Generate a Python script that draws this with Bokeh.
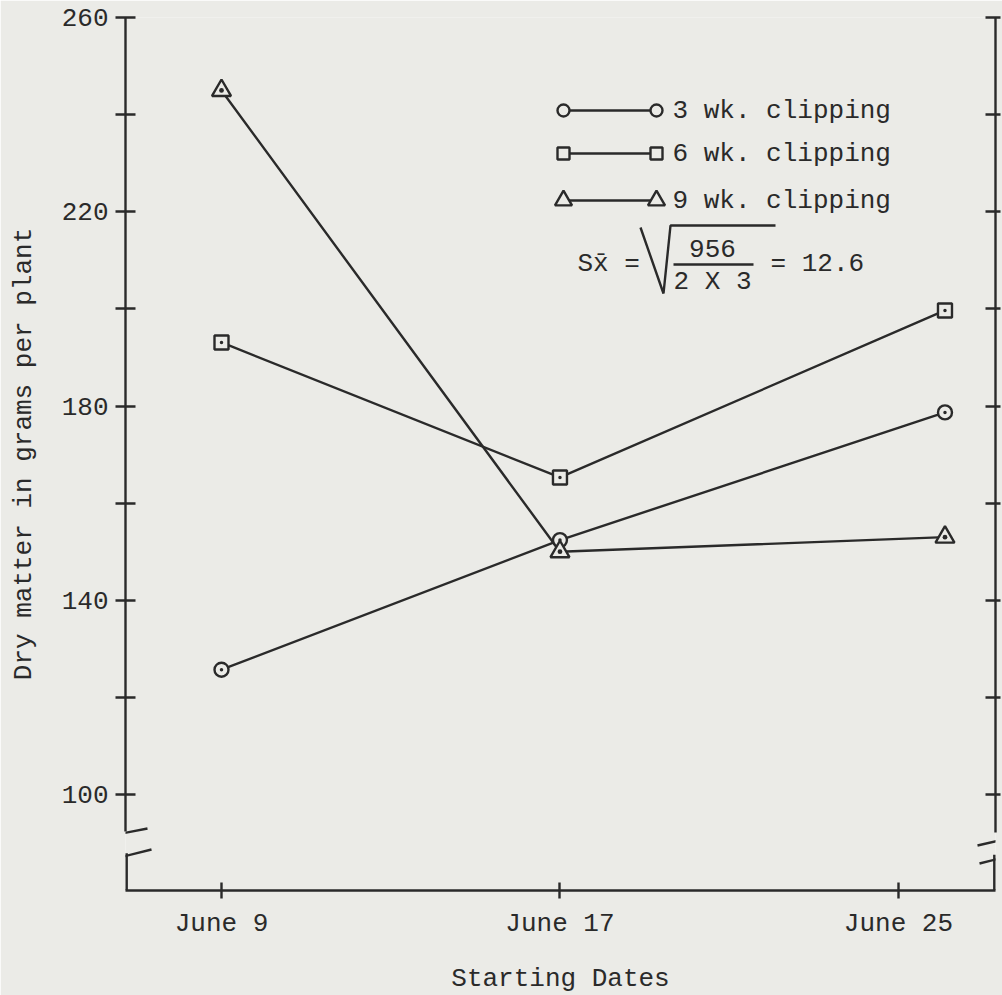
from bokeh.plotting import figure
from bokeh.models import LinearAxis, FixedTicker, Range1d
from bokeh.embed import file_html
from bokeh.resources import INLINE
from bokeh.core.properties import value

# ---------------- data ----------------
start_day = [9, 17, 26.1]            # day of June at which each point is plotted
date_ticks = [9, 17, 25]
date_labels = ["June 9", "June 17", "June 25"]
wk3 = [125.7, 152.4, 178.7]
wk6 = [193.1, 165.3, 199.7]
wk9 = [245.0, 150.0, 153.0]
series_names = ["3 wk. clipping", "6 wk. clipping", "9 wk. clipping"]
y_labelled = [100, 140, 180, 220, 260]
y_unlabelled = [120, 160, 200, 240]
formula_left = "Sx\u0304 ="
formula_num = "956"
formula_den = "2 X 3"
formula_right = "= 12.6"

# ---------------- style / layout ----------------
BG = "#ebebe7"
INK = "#2a2a2a"
FONT = "Liberation Mono"
FS = "26px"
LW = 2.4

X0, X1 = 6.731, 27.294
Y0, Y1 = 80.23, 260.03
FW, FH = 870, 873


def dx(px):
    return X0 + px * (X1 - X0) / FW


def dy(py):
    return Y1 - py * (Y1 - Y0) / FH


p = figure(frame_width=FW, frame_height=FH,
           x_range=Range1d(X0, X1), y_range=Range1d(Y0, Y1),
           output_backend="svg", toolbar_location=None,
           min_border_left=125, min_border_right=7, min_border_top=17,
           min_border_bottom=104,
           background_fill_color=BG, border_fill_color=BG,
           outline_line_color=None)
p.grid.visible = False

# x axis
xa = p.xaxis[0]
xa.ticker = FixedTicker(ticks=date_ticks)
xa.major_label_overrides = dict(zip(date_ticks, date_labels))
xa.minor_tick_line_color = None
xa.major_tick_in = 8
xa.major_tick_out = 8
xa.axis_line_width = LW
xa.axis_line_color = INK
xa.major_tick_line_width = LW
xa.major_tick_line_color = INK
xa.major_label_text_font = FONT
xa.major_label_text_font_size = FS
xa.major_label_text_color = INK
xa.major_label_standoff = 10
xa.axis_label = "Starting Dates"
xa.axis_label_text_font = FONT
xa.axis_label_text_font_size = FS
xa.axis_label_text_font_style = "normal"
xa.axis_label_text_color = INK
xa.axis_label_standoff = 22

# left axis: labelled ticks as major ticks, the others as (equal-looking) minor ticks
ya = p.yaxis[0]
ya.ticker = FixedTicker(ticks=y_labelled, minor_ticks=y_unlabelled)
ya.major_tick_in = 10
ya.major_tick_out = 10
ya.minor_tick_in = 10
ya.minor_tick_out = 10
ya.axis_line_width = LW
ya.axis_line_color = INK
ya.major_tick_line_width = LW
ya.major_tick_line_color = INK
ya.minor_tick_line_width = LW
ya.minor_tick_line_color = INK
ya.bounds = (92.4, Y1)
ya.major_label_text_font = FONT
ya.major_label_text_font_size = FS
ya.major_label_text_color = INK
ya.major_label_standoff = 7
ya.axis_label = "Dry matter in grams per plant"
ya.axis_label_text_font = FONT
ya.axis_label_text_font_size = FS
ya.axis_label_text_font_style = "normal"
ya.axis_label_text_color = INK
ya.axis_label_standoff = 20

# right axis: ticks only, no labels
ra = LinearAxis(ticker=FixedTicker(ticks=[], minor_ticks=y_labelled + y_unlabelled),
                bounds=(92.2, Y1),
                minor_tick_in=10, minor_tick_out=5, minor_tick_line_width=LW,
                minor_tick_line_color=INK, major_tick_line_color=None,
                axis_line_width=LW, axis_line_color=INK, major_label_standoff=0)
p.add_layout(ra, "right")

# axis breaks (lower stubs and slashes)
p.segment(x0=[X0, X1], y0=[Y0, Y0], x1=[X0, X1], y1=[87.9, 87.6],
          line_width=2 * LW, line_color=INK)
p.segment(x0=[dx(-9), dx(-6), dx(852), dx(854)],
          y0=[dy(817), dy(840), dy(828), dy(846)],
          x1=[dx(22), dx(26), dx(878), dx(878)],
          y1=[dy(811), dy(832), dy(822), dy(840)],
          line_width=LW, line_color=INK)

# data lines and markers
markers = ["circle_dot", "square_dot", "triangle_dot"]
sizes = [14, 14, 19]
for ys in [wk3, wk6, wk9]:
    p.line(start_day, ys, line_width=LW, line_color=INK)
for ys, mk, sz in zip([wk3, wk6, wk9], markers, sizes):
    p.scatter(start_day, ys, marker=mk, size=sz, fill_color=BG,
              line_color=INK, line_width=LW)

# legend (drawn by hand: a plain marker at each end of a short line)
leg_markers = ["circle", "square", "triangle"]
leg_sizes = [12, 12, 17]
rows = [93, 136, 183]
for name, mk, sz, ry in zip(series_names, leg_markers, leg_sizes, rows):
    p.line([dx(438), dx(531)], [dy(ry), dy(ry)], line_width=LW, line_color=INK)
    p.scatter([dx(438), dx(531)], [dy(ry), dy(ry)], marker=mk, size=sz,
              fill_color=BG, line_color=INK, line_width=LW)
    p.text(x=[dx(547)], y=[dy(ry)], text=[name], text_font=value(FONT),
           text_font_size=FS, text_color=INK, text_baseline="middle",
           text_align="left")

# standard error formula
p.text(x=[dx(452)], y=[dy(246)], text=[formula_left], text_font=value(FONT),
       text_font_size=FS, text_color=INK, text_baseline="middle", text_align="left")
p.line([dx(515), dx(538), dx(545), dx(650)],
       [dy(210), dy(276), dy(208), dy(208)], line_width=LW, line_color=INK)
p.text(x=[dx(587)], y=[dy(231)], text=[formula_num], text_font=value(FONT),
       text_font_size=FS, text_color=INK, text_baseline="middle", text_align="center")
p.line([dx(548), dx(628)], [dy(247), dy(247)], line_width=LW, line_color=INK)
p.text(x=[dx(587)], y=[dy(264)], text=[formula_den], text_font=value(FONT),
       text_font_size=FS, text_color=INK, text_baseline="middle", text_align="center")
p.text(x=[dx(645)], y=[dy(246)], text=[formula_right], text_font=value(FONT),
       text_font_size=FS, text_color=INK, text_baseline="middle", text_align="left")

open("out.html", "w").write(file_html(p, INLINE))
